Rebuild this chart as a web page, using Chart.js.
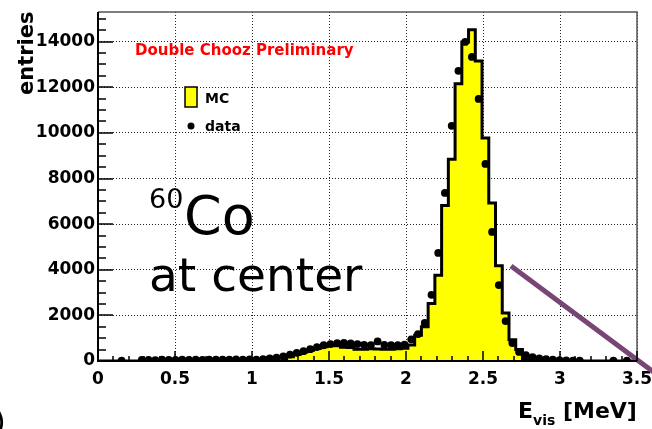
<!DOCTYPE html>
<html>
<head>
<meta charset="utf-8">
<script src="https://cdn.jsdelivr.net/npm/chart.js@4.4.1/dist/chart.umd.min.js"></script>
<style>
  html, body { margin: 0; padding: 0; background: #fff; }
  #wrap { width: 652px; height: 429px; position: relative; }
</style>
</head>
<body>
<div id="wrap"><canvas id="c" width="652" height="429"></canvas></div>
<script>
// Visible-energy histogram binning (MeV)
const binLow = 0;
const binHigh = 3.5;
const nBins = 80;

// Simulated spectrum (entries per bin)
const mcCounts = [
  0, 0, 0, 0, 0, 0, 0, 0, 0, 0,
  0, 0, 0, 0, 0, 0, 0, 0, 0, 0,
  0, 0, 0, 0, 0, 0, 0, 0, 185, 285,
  400, 475, 550, 620, 665, 670, 600, 590, 520, 520,
  540, 530, 510, 520, 540, 560, 700, 1130, 1500, 2520,
  3760, 6820, 8850, 12150, 13990, 14520, 13150, 9780, 6930, 4180,
  2100, 930, 500, 60, 0, 0, 0, 0, 0, 0,
  0, 0, 0, 0, 0, 0, 0, 0, 0, 0
];

// Measured spectrum (entries per bin, empty bins are null)
const dataCounts = [
  null, null, null, 20, null, null, 45, 50, 40, 55,
  50, 45, 55, 50, 60, 50, 55, 60, 55, 60,
  65, 60, 70, 60, 85, 110, 145, 200, 280, 360,
  430, 520, 610, 690, 740, 780, 790, 770, 740, 710,
  700, 860, 710, 690, 700, 720, 950, 1180, 1670, 2900,
  4740, 7370, 10310, 12720, 13990, 13330, 11490, 8640, 5660, 3330,
  1750, 790, 400, 260, 170, 110, 80, 60, 40, 30,
  20, 20, null, null, null, null, 20, null, 15, null
];

// Axis ranges and tick steps
const xRange = [0, 3.5];
const yRange = [0, 15300];
const xMajorStep = 0.5, xMinorStep = 0.1;
const yMajorStep = 2000, yMinorStep = 500;

// Annotation stroke (MeV, entries)
const arrowLine = [
  { x: 2.682, y: 4170 },
  { x: 3.66, y: -750 }
];

const binWidth = (binHigh - binLow) / nBins;

// Stepped outline: one point per lower bin edge plus the closing edge
const mcPoints = mcCounts.map((v, i) => ({ x: binLow + i * binWidth, y: v }));
mcPoints.push({ x: binHigh, y: mcCounts[nBins - 1] });

const dataPoints = dataCounts
  .map((v, i) => (v === null ? null : { x: binLow + (i + 0.5) * binWidth, y: v }))
  .filter(p => p !== null);

const FONT = '"DejaVu Sans", "Liberation Sans", sans-serif';

// Major tick values for each axis
function majorTicks(range, step) {
  const out = [];
  const n = Math.floor((range[1] - range[0]) / step + 1e-9);
  for (let i = 0; i <= n; i++) out.push({ value: +(range[0] + i * step).toFixed(6) });
  return out;
}

// Horizontal bin-width bars on the measured points
const binBars = {
  id: 'binBars',
  afterDatasetDraw(chart, args) {
    const ds = chart.data.datasets[args.index];
    if (!ds.binBars) return;
    const ctx = chart.ctx;
    const xs = chart.scales.x, ys = chart.scales.y;
    ctx.save();
    ctx.strokeStyle = '#000';
    ctx.lineWidth = 2.5;
    ctx.beginPath();
    ds.data.forEach(p => {
      const y = ys.getPixelForValue(p.y);
      ctx.moveTo(xs.getPixelForValue(p.x - binWidth / 2), y);
      ctx.lineTo(xs.getPixelForValue(p.x + binWidth / 2), y);
    });
    ctx.stroke();
    ctx.restore();
  }
};

// Frame, inward ticks and the text on the pad
const padDecor = {
  id: 'padDecor',
  afterDraw(chart) {
    const ctx = chart.ctx;
    const a = chart.chartArea;
    const xs = chart.scales.x, ys = chart.scales.y;
    ctx.save();

    // top and right frame
    ctx.strokeStyle = '#555';
    ctx.lineWidth = 1.5;
    ctx.beginPath();
    ctx.moveTo(a.left, a.top);
    ctx.lineTo(a.right, a.top);
    ctx.lineTo(a.right, a.bottom);
    ctx.stroke();

    // inward ticks
    ctx.strokeStyle = '#000';
    ctx.lineWidth = 1.5;
    ctx.beginPath();
    const nx = Math.round((xRange[1] - xRange[0]) / xMinorStep);
    for (let i = 0; i <= nx; i++) {
      const v = xRange[0] + i * xMinorStep;
      const px = Math.round(xs.getPixelForValue(v));
      const major = i % Math.round(xMajorStep / xMinorStep) === 0;
      ctx.moveTo(px, a.bottom);
      ctx.lineTo(px, a.bottom - (major ? 10 : 5));
    }
    const ny = Math.floor((yRange[1] - yRange[0]) / yMinorStep);
    for (let i = 0; i <= ny; i++) {
      const v = yRange[0] + i * yMinorStep;
      const py = Math.round(ys.getPixelForValue(v));
      const major = i % Math.round(yMajorStep / yMinorStep) === 0;
      ctx.moveTo(a.left, py);
      ctx.lineTo(a.left + (major ? 15 : 8), py);
    }
    ctx.stroke();

    // left and bottom axes
    ctx.lineWidth = 2;
    ctx.beginPath();
    ctx.moveTo(a.left, a.top);
    ctx.lineTo(a.left, a.bottom);
    ctx.lineTo(a.right, a.bottom);
    ctx.stroke();

    // header
    ctx.fillStyle = '#ff0000';
    ctx.font = 'bold 15px ' + FONT;
    ctx.textBaseline = 'alphabetic';
    ctx.textAlign = 'left';
    ctx.fillText('Double Chooz Preliminary', 135, 55);

    // legend
    const mcDs = chart.data.datasets.find(d => d.label === 'MC');
    const dataDs = chart.data.datasets.find(d => d.label === 'data');
    ctx.fillStyle = mcDs.backgroundColor;
    ctx.fillRect(185, 87, 12, 20);
    ctx.strokeStyle = '#000';
    ctx.lineWidth = 1.5;
    ctx.strokeRect(185, 87, 12, 20);
    ctx.fillStyle = dataDs.pointBackgroundColor;
    ctx.beginPath();
    ctx.arc(191, 126, 3.5, 0, Math.PI * 2);
    ctx.fill();
    ctx.fillStyle = '#000';
    ctx.font = 'bold 14px ' + FONT;
    ctx.fillText(mcDs.label, 205, 103);
    ctx.fillText(dataDs.label, 205, 131);

    // source label
    ctx.font = '27px ' + FONT;
    ctx.fillText('60', 149, 208);
    ctx.font = '54px ' + FONT;
    ctx.fillText('Co', 184, 234);
    ctx.font = '47px ' + FONT;
    ctx.fillText('at center', 149, 291);

    // axis titles
    ctx.font = 'bold 21px ' + FONT;
    ctx.save();
    ctx.translate(33, 95);
    ctx.rotate(-Math.PI / 2);
    ctx.fillText('entries', 0, 0);
    ctx.restore();

    ctx.font = 'bold 22px ' + FONT;
    let x = 518;
    ctx.fillText('E', x, 418);
    x += ctx.measureText('E').width;
    ctx.font = 'bold 14px ' + FONT;
    ctx.fillText('vis', x, 425);
    x += ctx.measureText('vis').width;
    ctx.font = 'bold 22px ' + FONT;
    ctx.fillText(' [MeV]', x, 418);

    // leftover glyph at the lower-left edge
    ctx.font = '30px ' + FONT;
    ctx.fillText(')', -6, 432);

    ctx.restore();
  }
};

new Chart(document.getElementById('c'), {
  type: 'line',
  data: {
    datasets: [
      {
        label: 'arrow',
        data: arrowLine,
        borderColor: '#774675',
        borderWidth: 5,
        pointRadius: 0,
        fill: false,
        clip: false,
        order: -1
      },
      {
        label: 'data',
        data: dataPoints,
        showLine: false,
        pointRadius: 3.9,
        pointBackgroundColor: '#000',
        pointBorderColor: '#000',
        pointBorderWidth: 0,
        binBars: true,
        order: 0
      },
      {
        label: 'MC',
        data: mcPoints,
        stepped: 'before',
        fill: 'origin',
        backgroundColor: '#ffff00',
        borderColor: '#000',
        borderWidth: 3,
        pointRadius: 0,
        order: 2
      }
    ]
  },
  options: {
    responsive: false,
    animation: false,
    events: [],
    layout: { padding: { left: 0, right: 15, top: 12, bottom: 0 } },
    plugins: {
      legend: { display: false },
      tooltip: { enabled: false },
      title: { display: false }
    },
    scales: {
      x: {
        type: 'linear',
        min: xRange[0],
        max: xRange[1],
        afterBuildTicks(scale) { scale.ticks = majorTicks(xRange, xMajorStep); },
        afterFit(scale) {
          scale.height = 68;
          scale.paddingLeft = 0;
          scale.paddingRight = 0;
        },
        grid: { color: '#222', lineWidth: 1, drawTicks: false },
        border: { display: false, dash: [1, 2] },
        ticks: {
          autoSkip: false,
          maxRotation: 0,
          padding: 8,
          color: '#000',
          font: { family: FONT, size: 17, weight: 'bold' },
          callback: v => String(v)
        }
      },
      y: {
        type: 'linear',
        min: yRange[0],
        max: yRange[1],
        afterBuildTicks(scale) { scale.ticks = majorTicks(yRange, yMajorStep); },
        afterFit(scale) {
          scale.width = 98;
          scale.paddingTop = 0;
          scale.paddingBottom = 0;
        },
        grid: { color: '#222', lineWidth: 1, drawTicks: false },
        border: { display: false, dash: [1, 2] },
        ticks: {
          padding: 3,
          color: '#000',
          font: { family: FONT, size: 17, weight: 'bold' },
          callback: v => String(v)
        }
      }
    }
  },
  plugins: [binBars, padDecor]
});
</script>
</body>
</html>
